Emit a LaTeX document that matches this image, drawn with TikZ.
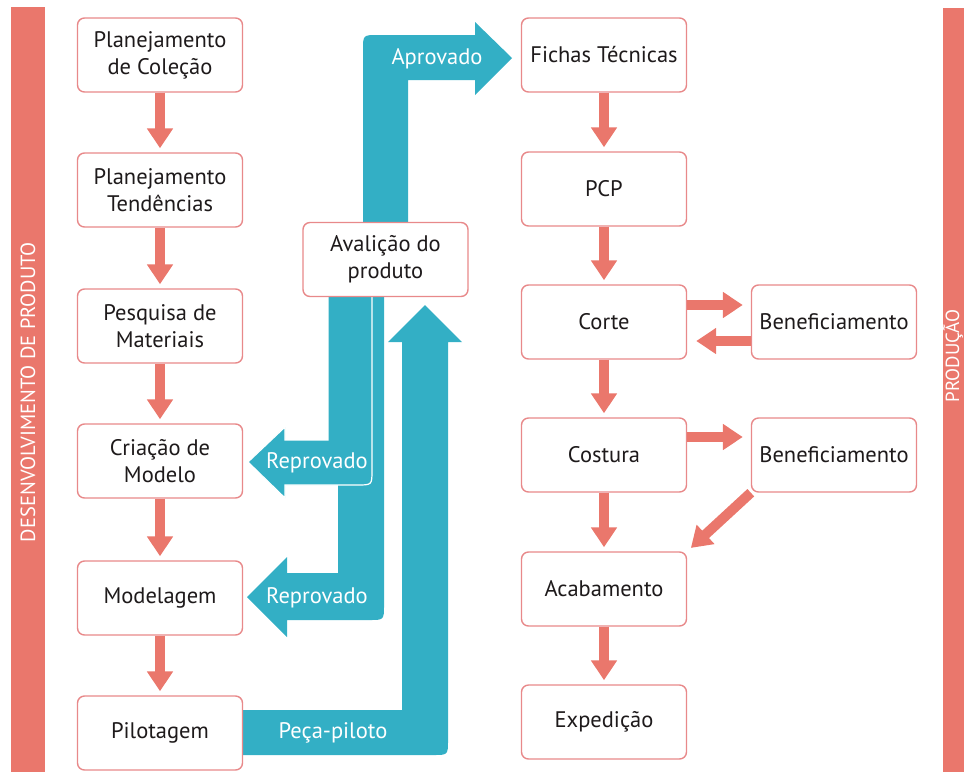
\documentclass[tikz,border=0pt]{standalone}
\usepackage{fontspec}
\setmainfont{PT Sans}
\usetikzlibrary{arrows.meta}
\definecolor{salmon}{HTML}{EA776C}
\definecolor{boxline}{HTML}{E8898A}
\definecolor{tealc}{HTML}{33AFC5}
\definecolor{txt}{HTML}{1E1A1B}
\begin{document}
\begin{tikzpicture}[x=1pt,y=-1pt,
 box/.style={draw=boxline, line width=1.4pt, fill=white, rounded corners=7pt,
   minimum width=165pt, minimum height=74pt, align=center,
   font=\fontsize{22.5}{27}\selectfont, text=txt, inner sep=0pt},
 parrow/.style={draw=salmon, line width=10pt, -{Triangle[length=20pt,width=25pt]}},
 tlabel/.style={text=white, font=\fontsize{22.5}{26}\selectfont},
 barlabel/.style={text=white, font=\fontsize{20.5}{24}\selectfont, rotate=90}
]
\useasboundingbox (0,0) rectangle (964,772);
% side bars
\fill[salmon] (11,7) rectangle (45,772);
\fill[salmon] (943,8) rectangle (980,772);
\node[barlabel] (lbl1) at (28,392) {DESENVOLVIMENTO DE PRODUTO};
\node[barlabel, font=\fontsize{19}{22}\selectfont] (lbl2) at (953,356) {PRODUÇÃO};
% teal block arrows
\fill[tealc] (230,710) -- (402,710) -- (402,342) -- (388,342) -- (425,305) -- (462,342) -- (448,342)
  -- (448,740) .. controls (448,755) .. (433,755) -- (230,755) -- cycle;
\fill[tealc] (338,290) -- (384,290) -- (384,605) .. controls (384,620) .. (369,620) -- (287,620)
  -- (287,637) -- (247,597) -- (287,557) -- (287,573) -- (338,573) -- cycle;
\filldraw[fill=tealc, draw=white, line width=1.2pt] (328,290) -- (372,290) -- (372,470)
  .. controls (372,485) .. (357,485) -- (285,485) -- (285,498) -- (248,462) -- (285,427)
  -- (285,440) -- (328,440) -- cycle;
\fill[tealc] (363,230) -- (363,50) .. controls (363,35) .. (378,35) -- (475,35) -- (475,22)
  -- (512,58) -- (475,95) -- (475,80) -- (408,80) -- (408,230) -- cycle;
\node[tlabel] (ta) at (437,59) {Aprovado};
\node[tlabel] (tr1) at (317,463) {Reprovado};
\node[tlabel] (tr2) at (317,598) {Reprovado};
\node[tlabel] (tp) at (333,733) {Peça-piloto};
% boxes
\node[box] (n1) at (160,55) {Planejamento\\de Coleção};
\node[box] (n2) at (160,190) {Planejamento\\Tendências};
\node[box] (n3) at (160,326) {Pesquisa de\\Materiais};
\node[box] (n4) at (160,461) {Criação de\\Modelo};
\node[box] (n5) at (160,598) {Modelagem};
\node[box] (n6) at (160,733) {Pilotagem};
\node[box] (av) at (385.5,259.5) {Avalição do\\produto};
\node[box] (r1) at (604,55) {Fichas Técnicas};
\node[box] (r2) at (604,189) {PCP};
\node[box] (r3) at (604,322) {Corte};
\node[box] (r4) at (604,455) {Costura};
\node[box] (r5) at (604,589) {Acabamento};
\node[box] (r6) at (604,722) {Expedição};
\node[box] (b1) at (834,322) {Beneficiamento};
\node[box] (b2) at (834,455) {Beneficiamento};
% pink arrows
\foreach \a/\b in {n1/n2,n2/n3,n3/n4,n4/n5,n5/n6,r1/r2,r2/r3,r3/r4,r4/r5,r5/r6}
  \draw[parrow, shorten >=4pt] (\a.south) -- (\b.north);
\draw[parrow, shorten >=8pt] ([yshift=17pt]r3.east) -- ([yshift=17pt]b1.west);
\draw[parrow, shorten >=9pt] ([yshift=-19pt]b1.west) -- ([yshift=-19pt]r3.east);
\draw[parrow, shorten >=8pt] ([yshift=18pt]r4.east) -- ([yshift=18pt]b2.west);
\draw[parrow, shorten >=5pt] (b2.south west) -- (r5.north east);
\end{tikzpicture}
\end{document}
